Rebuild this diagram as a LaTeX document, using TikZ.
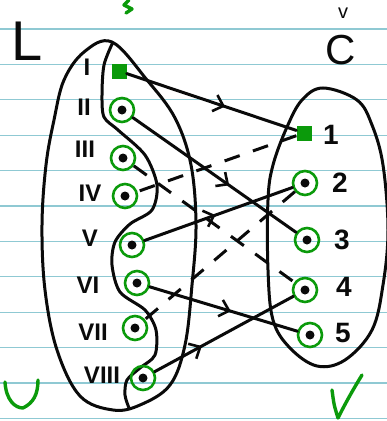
\documentclass[tikz,border=0pt]{standalone}
\usepackage{fontspec}
\setmainfont{Liberation Sans}
\usepackage{tikz}
\usetikzlibrary{arrows.meta,decorations.markings}
\definecolor{ink}{HTML}{0A0A0A}
\definecolor{pen}{HTML}{0B9A0B}
\definecolor{rule}{HTML}{8FC9D3}
\tikzset{
  vtx/.style={circle,draw=pen,line width=2.6pt,minimum size=24pt,inner sep=0pt,
    path picture={\fill[ink] (path picture bounding box.center) circle (4.5pt);}},
  hit/.style={rectangle,fill=pen,minimum size=15pt,inner sep=0pt},
  numeral/.style={font=\bfseries\fontsize{24}{26}\selectfont,text=ink},
  digit/.style={font=\bfseries\fontsize{28}{30}\selectfont,text=ink},
  side/.style={font=\fontsize{#1}{#1}\selectfont,text=ink},
  wire/.style={line width=3pt,draw=ink,line cap=round},
  dwire/.style={line width=3pt,draw=ink,dash pattern=on 16pt off 14pt},
  midarrow/.style={postaction={decorate},decoration={markings,
    mark=at position #1 with {\arrow{Straight Barb[length=9pt,width=17pt,line width=2.6pt]}}}},
  blob/.style={line width=3pt,draw=ink},
  scribble/.style={line width=3.4pt,draw=pen,line cap=round,line join=round}
}

\begin{document}
\begin{tikzpicture}[x=1pt,y=-1pt]
\fill[white] (0,0) rectangle (387,421);
\useasboundingbox (0,0) rectangle (387,421);
\foreach \k in {0,...,11} \draw[rule,line width=1.2pt] (0,{29+35.4*\k}) -- (387,{29+35.4*\k});

\draw[blob] plot[smooth cycle,tension=0.6] coordinates {(112,42) (147,80) (175,118) (191,165) (196,225) (192,285) (185,345) (170,385) (140,405) (113,410) (80,396) (57,350) (45,290) (42,225) (46,165) (54,120) (64,80) (84,52)};
\draw[blob] plot[smooth,tension=0.5] coordinates {(113,42) (104,65) (102,95) (104,117) (118,130) (145,155) (157,185) (152,210) (130,224) (115,242) (112,265) (120,292) (145,310) (156,330) (155,355) (140,368) (127,380) (125,395) (129,408)};
\draw[blob] plot[smooth cycle,tension=0.6] coordinates {(323,88) (357,100) (372,125) (383,165) (388,230) (383,285) (372,330) (345,360) (317,366) (290,348) (273,320) (268,270) (268,200) (273,165) (287,127) (302,100)};

\node[hit] (i) at (119,71) {};
\node[vtx] (ii) at (122,110) {};
\node[vtx] (iii) at (123,158) {};
\node[vtx] (iv) at (125,196) {};
\node[vtx] (v) at (132,245) {};
\node[vtx] (vi) at (137,283) {};
\node[vtx] (vii) at (135,328) {};
\node[vtx] (viii) at (143,378) {};
\node[hit] (c1) at (304,133) {};
\node[vtx] (c2) at (305,183) {};
\node[vtx] (c3) at (307,240) {};
\node[vtx] (c4) at (305,290) {};
\node[vtx] (c5) at (310,335) {};

\node[numeral] (li) at (87,67) {I};
\node[numeral] (lii) at (84,107) {II};
\node[numeral] (liii) at (85,149) {III};
\node[numeral] (liv) at (90,193) {IV};
\node[numeral] (lv) at (90,238) {V};
\node[numeral] (lvi) at (88,285) {VI};
\node[numeral] (lvii) at (93,332) {VII};
\node[numeral] (lviii) at (102,375) {VIII};
\node[digit] (l1) at (331,135) {1};
\node[digit] (l2) at (340,183) {2};
\node[digit] (l3) at (342,240) {3};
\node[digit] (l4) at (344,287) {4};
\node[digit] (l5) at (343,333) {5};
\node[side=56] (setl) at (27,41) {L};
\node[side=42] (setc) at (341,50) {C};
\node[side=20] (topv) at (343,13) {v};

\draw[wire,midarrow=0.58] (i) -- (c1);
\draw[wire,midarrow=0.59] (ii) -- (c3);
\draw[wire,midarrow=0.48] (v) -- (c2);
\draw[wire,midarrow=0.55] (vi) -- (c5);
\draw[wire,midarrow=0.34] (viii) -- (c4);
\draw[dwire] (c1) -- (iv);
\draw[dwire] (c2) -- (vii);
\draw[dwire] (iii) -- (c4);

\draw[scribble] (129,0) -- (124,5) -- (132,9) -- (126,13);
\draw[scribble] (5,382) .. controls (6,400) and (15,408) .. (23,408) .. controls (33,403) and (38,395) .. (38,380);
\draw[scribble] (332,390) .. controls (334,405) .. (338,418) .. controls (346,402) and (354,388) .. (362,375);
\end{tikzpicture}
\end{document}
